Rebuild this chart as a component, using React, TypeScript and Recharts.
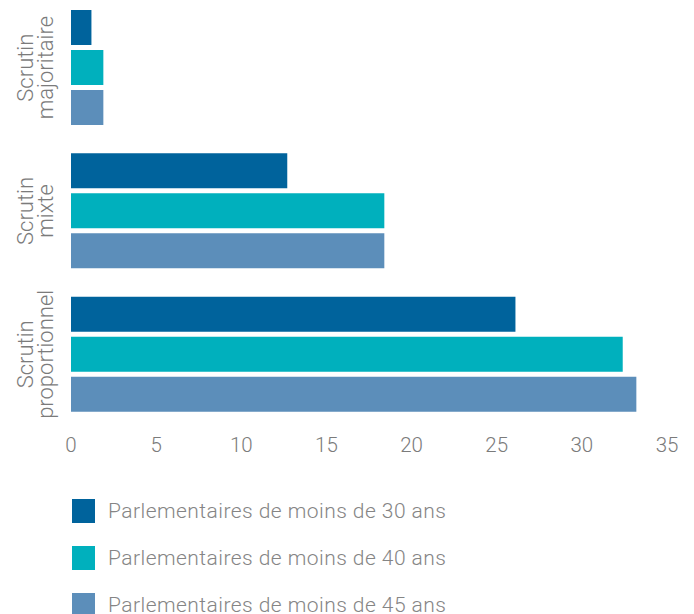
import React from 'react';
import { BarChart, Bar, XAxis, YAxis, Legend } from 'recharts';

const categories = ['Scrutin majoritaire', 'Scrutin mixte', 'Scrutin proportionnel'];
const under30 = [1.2, 12.7, 26.1];
const under40 = [1.9, 18.4, 32.4];
const under45 = [1.9, 18.4, 33.2];
const xTicks = [0, 5, 10, 15, 20, 25, 30, 35];
const seriesNames = [
  'Parlementaires de moins de 30 ans',
  'Parlementaires de moins de 40 ans',
  'Parlementaires de moins de 45 ans',
];
const colors = ['#00639c', '#00b0bd', '#5c8eba'];

const data = categories.map((name, i) => ({
  name,
  u30: under30[i],
  u40: under40[i],
  u45: under45[i],
}));

const FONT = 'Roboto, "Liberation Sans", sans-serif';
const TEXT = '#7b7b7b';

const YTick = (props: any) => {
  const { y, payload } = props;
  const label: string = payload.value;
  const idx = label.indexOf(' ');
  const l1 = label.slice(0, idx);
  const l2 = label.slice(idx + 1);
  return (
    <text
      transform={`translate(33,${y}) rotate(-90)`}
      textAnchor="middle"
      fill={TEXT}
      fontSize={22}
      fontFamily={FONT}
      fontWeight={300}
    >
      <tspan x={0} y={0}>{l1}</tspan>
      <tspan x={0} y={20}>{l2}</tspan>
    </text>
  );
};

const LegendContent = (props: any) => {
  const { payload } = props;
  return (
    <div>
      {payload.map((p: any) => (
        <div
          key={p.value}
          style={{ display: 'flex', alignItems: 'center', height: 47 }}
        >
          <div style={{ width: 23, height: 24, background: p.color, marginRight: 13, flexShrink: 0 }} />
          <span
            style={{
              fontSize: 21,
              letterSpacing: 0.45,
              color: '#858585',
              fontFamily: FONT,
              fontWeight: 300,
              whiteSpace: 'nowrap',
            }}
          >
            {p.value}
          </span>
        </div>
      ))}
    </div>
  );
};

export default function App() {
  return (
    <div style={{ position: 'absolute', left: 0, top: -4, width: 694, height: 618, background: '#fff' }}>
      <BarChart
        width={694}
        height={618}
        data={data}
        layout="vertical"
        margin={{ top: 0, right: 27, bottom: 158, left: 11 }}
        barSize={35}
        barGap={5}
      >
        <XAxis
          type="number"
          domain={[0, 35]}
          ticks={xTicks}
          axisLine={false}
          tickLine={false}
          tickMargin={5}
          height={30}
          tick={{ fill: TEXT, fontSize: 20.5, fontFamily: FONT, fontWeight: 300 }}
        />
        <YAxis
          type="category"
          dataKey="name"
          axisLine={false}
          tickLine={false}
          width={60}
          tick={<YTick />}
        />
        <Legend
          layout="vertical"
          verticalAlign="middle"
          align="center"
          content={<LegendContent />}
          wrapperStyle={{ position: 'absolute', top: 491, left: 72, width: 560 }}
        />
        <Bar dataKey="u30" name={seriesNames[0]} fill={colors[0]} isAnimationActive={false} />
        <Bar dataKey="u40" name={seriesNames[1]} fill={colors[1]} isAnimationActive={false} />
        <Bar dataKey="u45" name={seriesNames[2]} fill={colors[2]} isAnimationActive={false} />
      </BarChart>
    </div>
  );
}
